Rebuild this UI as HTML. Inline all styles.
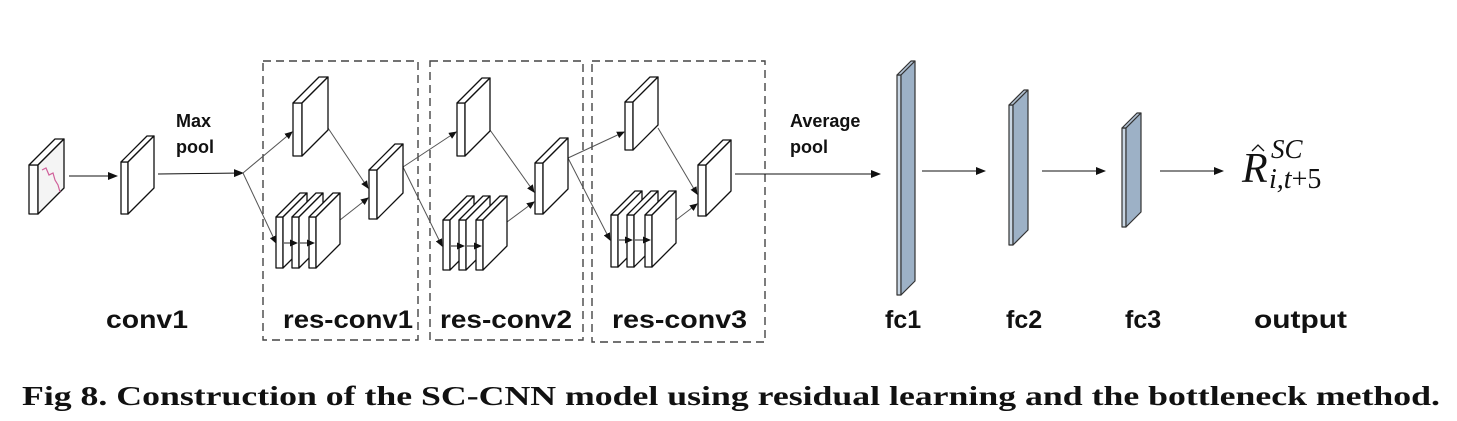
<!DOCTYPE html>
<html><head><meta charset="utf-8"><style>
html,body{margin:0;padding:0;background:#fff;}
svg{display:block;}
.b polygon{fill:#fff;stroke:#111;stroke-width:1.3;stroke-linejoin:round;}
.f polygon{stroke:#333;stroke-width:1.2;stroke-linejoin:round;}
.lab{font-family:"Liberation Sans",sans-serif;font-weight:bold;font-size:25px;fill:#111;}
.sm{font-family:"Liberation Sans",sans-serif;font-weight:bold;font-size:18px;fill:#111;}
</style></head><body>
<svg width="1457" height="421" viewBox="0 0 1457 421" xmlns="http://www.w3.org/2000/svg">
<defs>
<marker id="a" markerWidth="10" markerHeight="8" refX="9" refY="4" orient="auto" markerUnits="userSpaceOnUse"><path d="M0,0 L10,4 L0,8 Z" fill="#111"/></marker>
<marker id="s" markerWidth="8" markerHeight="7" refX="7" refY="3.5" orient="auto" markerUnits="userSpaceOnUse"><path d="M0,0 L8,3.5 L0,7 Z" fill="#111"/></marker>
</defs>
<g fill="none" stroke="#444" stroke-width="1.4" stroke-dasharray="8,5">
<rect x="263" y="61" width="155" height="279"/>
<rect x="430" y="61" width="153" height="279"/>
<rect x="592" y="61" width="173" height="281"/>
</g>
<g stroke="#111" stroke-width="1.1" fill="none">
<line x1="69" y1="176" x2="117" y2="176" marker-end="url(#a)"/>
<line x1="158" y1="174" x2="243" y2="173" marker-end="url(#a)"/>
<line x1="735" y1="174" x2="880" y2="174" marker-end="url(#a)"/>
<line x1="922" y1="171" x2="985" y2="171" marker-end="url(#a)"/>
<line x1="1042" y1="171" x2="1105" y2="171" marker-end="url(#a)"/>
<line x1="1160" y1="171" x2="1223" y2="171" marker-end="url(#a)"/>
</g>
<g stroke="#555" stroke-width="1" fill="none">
<line x1="243" y1="173" x2="292" y2="132" marker-end="url(#s)"/>
<line x1="243" y1="173" x2="276" y2="243" marker-end="url(#s)"/>
<line x1="328" y1="128" x2="368" y2="188" marker-end="url(#s)"/>
<line x1="340" y1="220" x2="368" y2="198" marker-end="url(#s)"/>
<line x1="403" y1="167" x2="456" y2="132" marker-end="url(#s)"/>
<line x1="403" y1="167" x2="442" y2="246" marker-end="url(#s)"/>
<line x1="490" y1="130" x2="534" y2="192" marker-end="url(#s)"/>
<line x1="507" y1="222" x2="534" y2="202" marker-end="url(#s)"/>
<line x1="568" y1="158" x2="624" y2="132" marker-end="url(#s)"/>
<line x1="568" y1="158" x2="610" y2="240" marker-end="url(#s)"/>
<line x1="658" y1="128" x2="697" y2="194" marker-end="url(#s)"/>
<line x1="676" y1="220" x2="697" y2="204" marker-end="url(#s)"/>
</g>
<g class="b">
<polygon points="29,165 38,165 38,214 29,214"/><polygon points="29,165 55,139 64,139 38,165"/><polygon points="38,165 64,139 64,188 38,214" style="fill:#f4f4f4"/>
<polyline points="42,170 46,168 49,175 53,173 55,180 58,185 60,192" fill="none" stroke="#d0609a" stroke-width="1.2"/>
<polygon points="121,162 128,162 128,214 121,214"/><polygon points="121,162 147,136 154,136 128,162"/><polygon points="128,162 154,136 154,188 128,214"/>
<polygon points="293,103 302,103 302,156 293,156"/><polygon points="293,103 319,77 328,77 302,103"/><polygon points="302,103 328,77 328,130 302,156"/>
<polygon points="276,217 283,217 283,268 276,268"/><polygon points="276,217 300,193 307,193 283,217"/><polygon points="283,217 307,193 307,244 283,268"/>
<polygon points="292,217 299,217 299,268 292,268"/><polygon points="292,217 316,193 323,193 299,217"/><polygon points="299,217 323,193 323,244 299,268"/>
<polygon points="309,217 316,217 316,268 309,268"/><polygon points="309,217 333,193 340,193 316,217"/><polygon points="316,217 340,193 340,244 316,268"/>
<polygon points="369,170 377,170 377,219 369,219"/><polygon points="369,170 395,144 403,144 377,170"/><polygon points="377,170 403,144 403,193 377,219"/>
<polygon points="457,103 465,103 465,156 457,156"/><polygon points="457,103 482,78 490,78 465,103"/><polygon points="465,103 490,78 490,131 465,156"/>
<polygon points="443,220 450,220 450,270 443,270"/><polygon points="443,220 467,196 474,196 450,220"/><polygon points="450,220 474,196 474,246 450,270"/>
<polygon points="459,220 466,220 466,270 459,270"/><polygon points="459,220 483,196 490,196 466,220"/><polygon points="466,220 490,196 490,246 466,270"/>
<polygon points="476,220 483,220 483,270 476,270"/><polygon points="476,220 500,196 507,196 483,220"/><polygon points="483,220 507,196 507,246 483,270"/>
<polygon points="535,163 543,163 543,214 535,214"/><polygon points="535,163 560,138 568,138 543,163"/><polygon points="543,163 568,138 568,189 543,214"/>
<polygon points="625,102 633,102 633,150 625,150"/><polygon points="625,102 650,77 658,77 633,102"/><polygon points="633,102 658,77 658,125 633,150"/>
<polygon points="611,215 618,215 618,267 611,267"/><polygon points="611,215 635,191 642,191 618,215"/><polygon points="618,215 642,191 642,243 618,267"/>
<polygon points="627,215 634,215 634,267 627,267"/><polygon points="627,215 651,191 658,191 634,215"/><polygon points="634,215 658,191 658,243 634,267"/>
<polygon points="645,215 652,215 652,267 645,267"/><polygon points="645,215 669,191 676,191 652,215"/><polygon points="652,215 676,191 676,243 652,267"/>
<polygon points="698,165 706,165 706,216 698,216"/><polygon points="698,165 723,140 731,140 706,165"/><polygon points="706,165 731,140 731,191 706,216"/>
</g>
<g stroke="#222" stroke-width="1">
<line x1="284" y1="243" x2="297" y2="243" marker-end="url(#s)"/><line x1="300" y1="243" x2="314" y2="243" marker-end="url(#s)"/>
<line x1="451" y1="246" x2="464" y2="246" marker-end="url(#s)"/><line x1="467" y1="246" x2="481" y2="246" marker-end="url(#s)"/>
<line x1="619" y1="240" x2="632" y2="240" marker-end="url(#s)"/><line x1="635" y1="240" x2="650" y2="240" marker-end="url(#s)"/>
</g>
<g class="f">
<polygon points="897,75 901,75 901,295 897,295" fill="#c9d6e3"/><polygon points="897,75 911,61 915,61 901,75" fill="#b4c4d5"/><polygon points="901,75 915,61 915,281 901,295" fill="#9db1c6"/>
<polygon points="1009,105 1013,105 1013,245 1009,245" fill="#c9d6e3"/><polygon points="1009,105 1024,90 1028,90 1013,105" fill="#b4c4d5"/><polygon points="1013,105 1028,90 1028,230 1013,245" fill="#9db1c6"/>
<polygon points="1122,128 1126,128 1126,227 1122,227" fill="#c9d6e3"/><polygon points="1122,128 1137,113 1141,113 1126,128" fill="#b4c4d5"/><polygon points="1126,128 1141,113 1141,212 1126,227" fill="#9db1c6"/>
</g>
<text class="sm" x="176" y="127">Max</text>
<text class="sm" x="176" y="153">pool</text>
<text class="sm" x="790" y="127">Average</text>
<text class="sm" x="790" y="153">pool</text>
<text class="lab" x="106" y="328" textLength="82" lengthAdjust="spacingAndGlyphs">conv1</text>
<text class="lab" x="283" y="328" textLength="130" lengthAdjust="spacingAndGlyphs">res-conv1</text>
<text class="lab" x="440" y="328" textLength="132" lengthAdjust="spacingAndGlyphs">res-conv2</text>
<text class="lab" x="612" y="328" textLength="135" lengthAdjust="spacingAndGlyphs">res-conv3</text>
<text class="lab" x="885" y="328">fc1</text>
<text class="lab" x="1006" y="328">fc2</text>
<text class="lab" x="1125" y="328">fc3</text>
<text class="lab" x="1254" y="328" textLength="93" lengthAdjust="spacingAndGlyphs">output</text>
<g font-family="Liberation Serif, serif" font-style="italic" fill="#111">
<text x="1242" y="182" font-size="42">R</text>
<path d="M1252,151 L1258,145 L1264,151" fill="none" stroke="#111" stroke-width="1.3"/>
<text x="1271" y="158" font-size="27">SC</text>
<text x="1269" y="188" font-size="28">i,t<tspan font-style="normal">+5</tspan></text>
</g>
<text x="22" y="405" font-family="Liberation Serif, serif" font-weight="bold" font-size="27" fill="#111" textLength="1418" lengthAdjust="spacingAndGlyphs">Fig 8. Construction of the SC-CNN model using residual learning and the bottleneck method.</text>
</svg>
</body></html>
